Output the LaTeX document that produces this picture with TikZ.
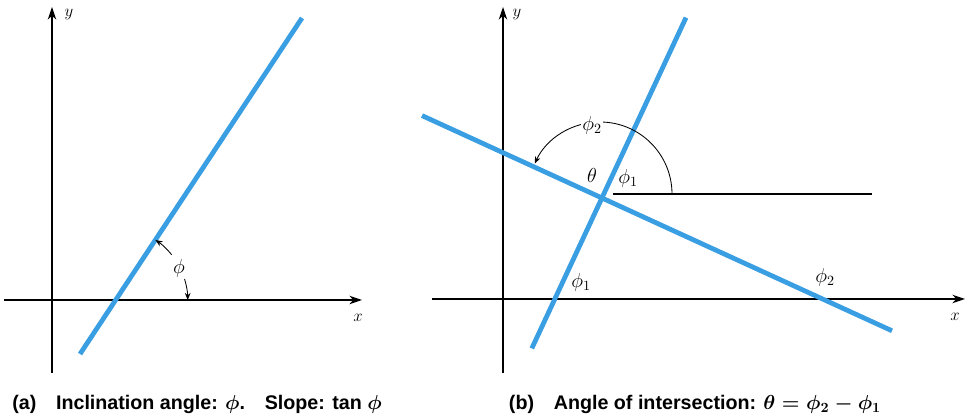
\documentclass[tikz,border=0pt]{standalone}
\usepackage{fontspec}
\setmainfont{Liberation Sans}
\usetikzlibrary{arrows.meta}
\definecolor{lineblue}{RGB}{58,158,226}
\tikzset{
  axis/.style={line width=1pt, -{Stealth[length=9pt,width=6pt]}},
  bline/.style={lineblue, line width=3.4pt},
  angarc/.style={line width=0.6pt},
  lbl/.style={font=\fontsize{14}{16}\selectfont, inner sep=1pt},
  axlbl/.style={font=\large, inner sep=1pt},
  capt/.style={font=\bfseries\fontsize{14}{16}\selectfont}
}
\begin{document}
\begin{tikzpicture}[x=0.025cm, y=0.025cm]
    \useasboundingbox (0,0) rectangle (968,419);

    % (a) inclination angle
    \draw[axis] (52,46) -- (52,412);
    \draw[axis] (4,119) -- (362,119);
    \node[axlbl] (ya) at (69,404) {$y$};
    \node[axlbl] (xa) at (358,101) {$x$};
    \draw[bline] (80,65) -- (302,401);
    \coordinate (A) at (115.7,119);
    \draw[angarc, {Stealth[length=5pt,width=4pt]}-] ([shift={(0:72)}]A) arc (0:17:72);
    \draw[angarc, -{Stealth[length=5pt,width=4pt]}] ([shift={(39:72)}]A) arc (39:56.5:72);
    \node[lbl] (phia) at (179,151) {$\phi$};

    % (b) angle of intersection
    \draw[axis] (503,46) -- (503,412);
    \draw[axis] (432,120) -- (965,120);
    \node[axlbl] (yb) at (517,404) {$y$};
    \node[axlbl] (xb) at (955,102) {$x$};
    \coordinate (P) at (602,221);
    \draw[bline] (531.8,70.6) -- (686,401.4);
    \draw[bline] (422,303.4) -- (892,88.2);
    \draw[line width=1pt] (613,225) -- (872,225);
    \coordinate (C) at (600,225);
    \draw[angarc, -{Stealth[length=5pt,width=4pt]}] ([shift={(0:72)}]C) arc (0:155:72);
    \node[lbl, fill=white] (phi2u) at (592,294) {$\phi_2$};
    \node[lbl] (theta) at (592,244) {$\theta$};
    \node[lbl] (phi1u) at (628,241) {$\phi_1$};
    \node[lbl] (phi1d) at (581,137) {$\phi_1$};
    \node[lbl] (phi2d) at (825,142) {$\phi_2$};

    % captions
    \node[capt] (capa) at (197,15) {(a)\quad Inclination angle: {\boldmath$\phi$}.\quad Slope: tan {\boldmath$\phi$}};
    \node[capt] (capb) at (695,15) {(b)\quad Angle of intersection: {\boldmath$\theta = \phi_2 - \phi_1$}};
\end{tikzpicture}
\end{document}
